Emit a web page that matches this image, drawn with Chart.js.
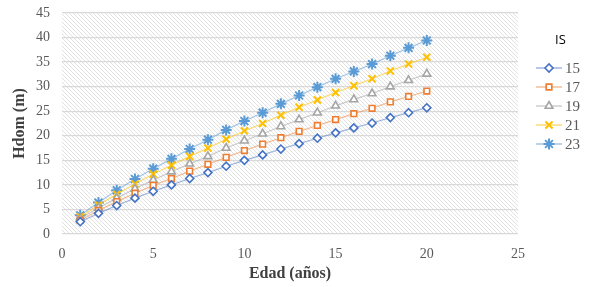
<!DOCTYPE html>
<html>
<head>
<meta charset="utf-8">
<script src="https://cdn.jsdelivr.net/npm/chart.js@4/dist/chart.umd.min.js"></script>
<style>
  html, body { margin: 0; padding: 0; background: #fff; }
  #wrap { width: 592px; height: 287px; }
</style>
</head>
<body>
<div id="wrap"><canvas id="chartIS"></canvas></div>
<script>
// edades (años)
const edades = [1, 2, 3, 4, 5, 6, 7, 8, 9, 10, 11, 12, 13, 14, 15, 16, 17, 18, 19, 20];
const indices = ['15', '17', '19', '21', '23'];
// Hdom (m), por indice de sitio
const hdom15 = [2.5, 4.2, 5.8, 7.3, 8.7, 10.0, 11.3, 12.5, 13.8, 15.0, 16.1, 17.3, 18.4, 19.5, 20.6, 21.6, 22.6, 23.7, 24.7, 25.7];
const hdom17 = [2.8, 4.8, 6.6, 8.3, 9.9, 11.3, 12.8, 14.2, 15.6, 17.0, 18.3, 19.6, 20.9, 22.1, 23.3, 24.5, 25.6, 26.9, 28.0, 29.1];
const hdom19 = [3.2, 5.3, 7.3, 9.2, 11.0, 12.7, 14.3, 15.8, 17.5, 19.0, 20.4, 21.9, 23.3, 24.7, 26.1, 27.4, 28.6, 30.0, 31.3, 32.6];
const hdom21 = [3.5, 5.9, 8.1, 10.2, 12.2, 14.0, 15.8, 17.5, 19.3, 21.0, 22.5, 24.2, 25.8, 27.3, 28.8, 30.2, 31.6, 33.2, 34.6, 36.0];
const hdom23 = [3.8, 6.4, 8.9, 11.2, 13.3, 15.3, 17.3, 19.2, 21.2, 23.0, 24.7, 26.5, 28.2, 29.9, 31.6, 33.1, 34.6, 36.3, 37.9, 39.4];
const xTicks = [0, 5, 10, 15, 20, 25];
const yTicks = [0, 5, 10, 15, 20, 25, 30, 35, 40, 45];

const series = [hdom15, hdom17, hdom19, hdom21, hdom23];
const colores = ['#4472C4', '#ED7D31', '#A5A5A5', '#FFC000', '#5B9BD5'];
const lineas = ['rgba(68,114,196,0.5)', 'rgba(237,125,49,0.5)', 'rgba(165,165,165,0.55)', 'rgba(255,192,0,0.55)', 'rgba(91,155,213,0.55)'];
const estilos = ['rectRot', 'rect', 'triangle', 'crossRot', 'star'];
const radios = [4, 4, 4.5, 5, 5.5];

const serif = "'Liberation Serif', 'Times New Roman', serif";

// patron rayado del fondo del area de trazado
function crearRayado() {
  const c = document.createElement('canvas');
  c.width = 4; c.height = 4;
  const p = c.getContext('2d');
  p.fillStyle = '#ffffff';
  p.fillRect(0, 0, 4, 4);
  p.strokeStyle = '#e2e2e2';
  p.lineWidth = 1;
  p.beginPath();
  p.moveTo(0, 0); p.lineTo(4, 4);
  p.moveTo(-1, 3); p.lineTo(1, 5);
  p.moveTo(3, -1); p.lineTo(5, 1);
  p.stroke();
  return c;
}

const fondoRayado = {
  id: 'fondoRayado',
  beforeDraw(chart) {
    const { ctx, chartArea: a } = chart;
    ctx.save();
    ctx.fillStyle = ctx.createPattern(crearRayado(), 'repeat');
    ctx.fillRect(a.left, a.top, a.right - a.left, a.bottom - a.top);
    ctx.restore();
  }
};

// leyenda estilo Excel: linea + marcador
const leyendaIS = {
  id: 'leyendaIS',
  afterDraw(chart) {
    const ctx = chart.ctx;
    ctx.save();
    ctx.fillStyle = '#000';
    ctx.font = "13px 'Open Sans', 'DejaVu Sans', sans-serif";
    ctx.textAlign = 'left';
    ctx.textBaseline = 'middle';
    ctx.fillText('IS', 555, 40);
    chart.data.datasets.forEach((ds, i) => {
      const y = 68 + i * 19;
      ctx.strokeStyle = ds.borderColor;
      ctx.lineWidth = 1.5;
      ctx.beginPath();
      ctx.moveTo(536, y); ctx.lineTo(562, y);
      ctx.stroke();
      ctx.strokeStyle = ds.pointBorderColor;
      ctx.fillStyle = ds.pointBackgroundColor;
      ctx.lineWidth = ds.pointBorderWidth;
      Chart.helpers.drawPoint(ctx, {
        pointStyle: ds.pointStyle,
        radius: ds.pointRadius,
        borderWidth: ds.pointBorderWidth,
        rotation: 0
      }, 549, y);
      ctx.fillStyle = '#595959';
      ctx.font = '15px ' + serif;
      ctx.fillText(ds.label, 565, y + 1);
    });
    ctx.restore();
  }
};

new Chart(document.getElementById('chartIS'), {
  type: 'line',
  data: {
    datasets: series.map((vals, i) => ({
      label: indices[i],
      data: edades.map((e, j) => ({ x: e, y: vals[j] })),
      borderColor: lineas[i],
      borderWidth: 1.2,
      pointStyle: estilos[i],
      pointRadius: radios[i],
      pointBorderColor: colores[i],
      pointBackgroundColor: '#ffffff',
      pointBorderWidth: (i >= 3) ? 2 : 1.6,
      tension: 0
    }))
  },
  options: {
    responsive: true,
    maintainAspectRatio: false,
    animation: false,
    layout: { padding: { top: 13, right: 74, left: 6, bottom: 0 } },
    plugins: {
      legend: { display: false },
      tooltip: { enabled: false }
    },
    scales: {
      x: {
        type: 'linear',
        min: 0, max: 25,
        afterBuildTicks: s => { s.ticks = xTicks.map(v => ({ value: v })); },
        afterFit: s => { s.height = 53; s.paddingLeft = 0; s.paddingRight = 0; },
        grid: { display: false },
        border: { display: false },
        ticks: { color: '#595959', font: { family: serif, size: 14 }, padding: 4 },
        title: { display: true, text: 'Edad (años)', color: '#404040', font: { family: serif, size: 16, weight: 'bold' }, padding: { top: 0 } }
      },
      y: {
        min: 0, max: 45,
        afterBuildTicks: s => { s.ticks = yTicks.map(v => ({ value: v })); },
        afterFit: s => { s.width = 56; s.paddingTop = 0; s.paddingBottom = 0; },
        grid: { color: '#d9d9d9', lineWidth: 1.3, drawTicks: false },
        border: { display: false },
        ticks: { color: '#595959', font: { family: serif, size: 14 }, padding: 12 },
        title: { display: true, text: 'Hdom (m)', color: '#404040', font: { family: serif, size: 16, weight: 'bold' }, padding: { bottom: 0 } }
      }
    }
  },
  plugins: [fondoRayado, leyendaIS]
});
</script>
</body>
</html>
